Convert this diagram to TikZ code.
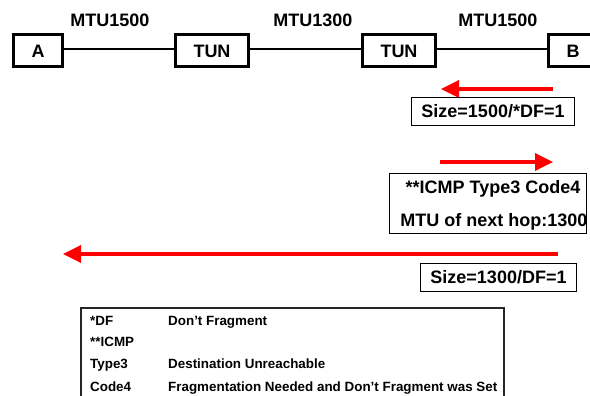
\documentclass[tikz,border=0pt]{standalone}
\usepackage{fontspec}
\setmainfont{Liberation Sans}
\usetikzlibrary{arrows.meta}
\begin{document}
\begin{tikzpicture}[x=1pt,y=-1pt,
  bigfont/.style={font=\fontsize{18}{20}\selectfont\bfseries},
  netbox/.style={bigfont, draw, line width=3pt, minimum height=32pt, inner sep=0pt, text height=12.9pt, text depth=0pt},
  link/.style={line width=2.7pt},
  mtulabel/.style={bigfont, anchor=base, inner sep=0pt},
  msgbox/.style={bigfont, draw, line width=1.3pt, inner sep=0pt, text height=12.9pt, text depth=0pt},
  msgtext/.style={bigfont, anchor=base, inner sep=0pt},
  redarrow/.style={draw=red, line width=3.5pt, -{Triangle[length=18pt,width=17pt]}},
  tabtxt/.style={font=\fontsize{13.4}{15}\selectfont\bfseries, anchor=base west, inner sep=0pt},
  tabframe/.style={draw=black!85, line width=1.5pt}
]
\useasboundingbox (0,0) rectangle (590,396);

% network
\node[netbox, minimum width=49pt] (A) at (38,51) {A};
\node[netbox, minimum width=73pt] (T1) at (212,51) {TUN};
\node[netbox, minimum width=73pt] (T2) at (399,51) {TUN};
\node[netbox, minimum width=49pt] (B) at (573,51) {B};
\draw[link] ([yshift=2pt]A.east) -- ([yshift=2pt]T1.west);
\draw[link] ([yshift=2pt]T1.east) -- ([yshift=2pt]T2.west);
\draw[link] ([yshift=2pt]T2.east) -- ([yshift=2pt]B.west);

\node[mtulabel] (m1) at (110,27) {MTU1500};
\node[mtulabel] (m2) at (313,27) {MTU1300};
\node[mtulabel] (m3) at (498,27) {MTU1500};

% packet 1
\coordinate (r1s) at (553,89);
\coordinate (r1e) at (441,89);
\draw[redarrow] (r1s) -- (r1e);
\node[msgbox, minimum width=163pt, minimum height=28pt] (s1) at (493,111.5) {Size=1500/*DF=1};

% ICMP
\coordinate (r2s) at (440,162);
\coordinate (r2e) at (553,162);
\draw[redarrow] (r2s) -- (r2e);
\node[msgtext] (i1) at (493,193.5) {**ICMP Type3 Code4};
\node[msgtext] (i2) at (494,226) {MTU of next hop:1300};
\node[draw, line width=1.3pt, minimum width=197pt, minimum height=60pt, inner sep=0pt] (ibox) at (488,203.5) {};

% packet 2
\coordinate (r3s) at (558,254);
\coordinate (r3e) at (63,254);
\draw[redarrow] (r3s) -- (r3e);
\node[msgbox, minimum width=156pt, minimum height=28pt] (s2) at (498.5,277.5) {Size=1300/DF=1};

% legend table
\coordinate (tbl) at (81,396);
\coordinate (tbr) at (504,396);
\draw[tabframe] (tbl) -- (81,308) -- (504,308) -- (tbr);
\node[tabtxt] (k1) at (90,325) {*DF};
\node[tabtxt] (v1) at (168,325) {Don’t Fragment};
\node[tabtxt] (k2) at (90,346) {**ICMP};
\node[tabtxt] (k3) at (90,368) {Type3};
\node[tabtxt] (v3) at (168,368) {Destination Unreachable};
\node[tabtxt] (k4) at (90,391) {Code4};
\node[tabtxt] (v4) at (168,391) {Fragmentation Needed and Don’t Fragment was Set};
\end{tikzpicture}
\end{document}
